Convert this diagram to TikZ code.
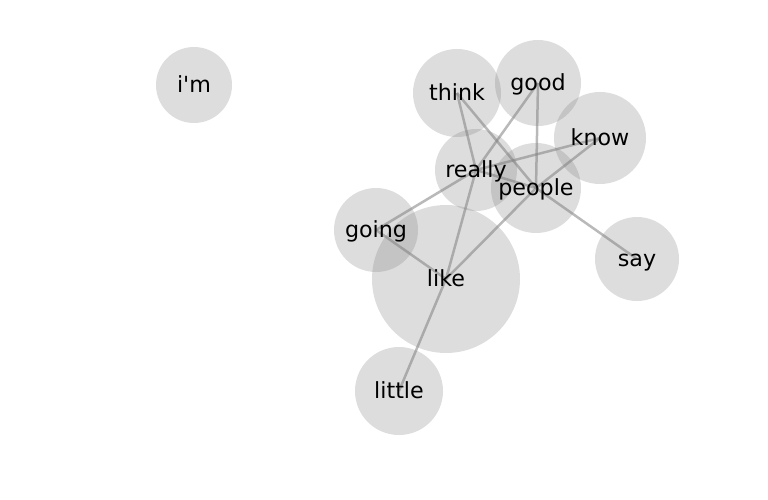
\documentclass[tikz,border=0pt]{standalone}
\usepackage{fontspec}
\setmainfont{DejaVu Sans}
\pgfdeclarelayer{bg}
\pgfdeclarelayer{mid}
\pgfsetlayers{bg,mid,main}
\definecolor{bubblec}{RGB}{128,128,128}
\definecolor{edgec}{RGB}{128,128,128}
\tikzset{
  word/.style={font=\fontsize{22.2}{24}\selectfont, inner sep=0pt, text=black, text height=16.5pt, text depth=2.3pt},
  bubble/.style={fill=bubblec, fill opacity=0.27},
  link/.style={draw=edgec, opacity=0.55, line width=2.5pt},
}
\begin{document}
\begin{tikzpicture}[x=1pt,y=-1pt]
\useasboundingbox (0,0) rectangle (768,500);
% words
\node[word] (im) at (194,85) {i\textquotesingle m};
\node[word] (think) at (457,93) {think};
\node[word] (good) at (538,83) {good};
\node[word] (know) at (600,138) {know};
\node[word] (really) at (476,170) {really};
\node[word] (people) at (536,188) {people};
\node[word] (going) at (376,230) {going};
\node[word] (like) at (446,279) {like};
\node[word] (say) at (637,259) {say};
\node[word] (little) at (399,391) {little};
% bubbles
\begin{pgfonlayer}{bg}
\fill[bubble] (im.center) circle (38pt);
\fill[bubble] (think.center) circle (44pt);
\fill[bubble] (good.center) circle (43pt);
\fill[bubble] (know.center) circle (46pt);
\fill[bubble] (really.center) circle (41pt);
\fill[bubble] (people.center) circle (45pt);
\fill[bubble] (going.center) circle (42pt);
\fill[bubble] (like.center) circle (74pt);
\fill[bubble] (say.center) circle (42pt);
\fill[bubble] (little.center) circle (44pt);
\end{pgfonlayer}
% links
\begin{pgfonlayer}{mid}
\draw[link] (think.center) -- (really.center);
\draw[link] (think.center) -- (people.center);
\draw[link] (good.center) -- (really.center);
\draw[link] (good.center) -- (people.center);
\draw[link] (know.center) -- (really.center);
\draw[link] (know.center) -- (people.center);
\draw[link] (really.center) -- (people.center);
\draw[link] (really.center) -- (going.center);
\draw[link] (really.center) -- (like.center);
\draw[link] (people.center) -- (like.center);
\draw[link] (people.center) -- (say.center);
\draw[link] (going.center) -- (like.center);
\draw[link] (like.center) -- (little.center);
\end{pgfonlayer}
\end{tikzpicture}
\end{document}
